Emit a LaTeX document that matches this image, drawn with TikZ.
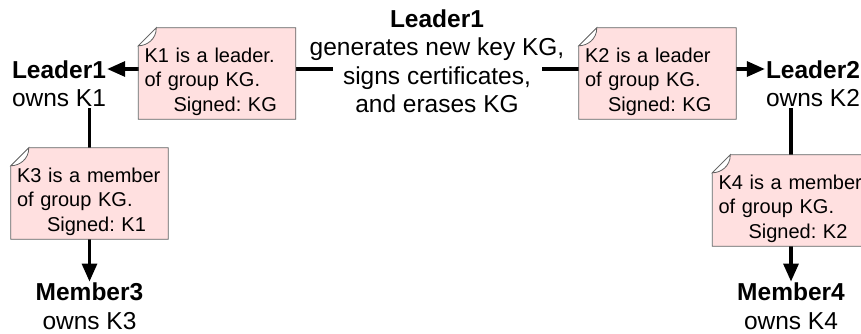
\documentclass[tikz,border=0pt]{standalone}
\usepackage{fontspec}
\setmainfont{Liberation Sans}
\usetikzlibrary{arrows.meta}
\usetikzlibrary{positioning}

\definecolor{notepink}{RGB}{255,224,224}
\definecolor{noteedge}{RGB}{96,96,96}
\newcommand{\lblfont}{\fontsize{24.5}{28.5}\selectfont}
\newcommand{\notefont}{\frenchspacing\fontsize{20}{24.5}\selectfont}

\begin{document}
\begin{tikzpicture}
	[
	x=1pt, y=-1pt,
	> = {Triangle[length=18pt,width=15pt]},
	party/.style = {align=center, font=\lblfont, inner sep=1pt},
	note/.style = {fill=notepink, text width=145pt, inner xsep=6pt, inner ysep=0pt, minimum height=91pt, align=left, font=\notefont},
	flow/.style = {line width=3.2pt},
	edge/.style = {draw=noteedge, line width=0.8pt}
	]
	\useasboundingbox (0,0) rectangle (861,333);

	% key holders
	\node[party] (gen) at (437,61) {\textbf{Leader1}\\generates new key KG,\\signs certificates,\\and erases KG};
	\node[party] (lead1) at (59,83.5) {\textbf{Leader1}\\owns K1};
	\node[party] (lead2) at (813,83.5) {\textbf{Leader2}\\owns K2};
	\node[party] (mem3) at (89.5,306) {\textbf{Member3}\\owns K3};
	\node[party] (mem4) at (791,306) {\textbf{Member4}\\owns K4};
	\coordinate (genL) at (333,69);
	\coordinate (genR) at (542,69);

	\draw[flow,->] (genL) -- (lead1.east |- genL);
	\draw[flow,->] (genR) -- (lead2.west |- genR);
	\draw[flow,->] (mem3 |- lead1.south) -- (mem3);
	\draw[flow,->] (mem4 |- lead2.south) -- (mem4);

	% certificates
	\node[note] (n1) at (217,73.5) {\rule{0pt}{31pt}K1 is a leader.\\of group KG.\\\hspace*{29pt}Signed: KG};
	\node[note] (n2) at (657.5,73.5) {\rule{0pt}{31pt}K2 is a leader\\of group KG.\\\hspace*{23pt}Signed: KG};
	\node[note] (n3) at (89.5,193.5) {\rule{0pt}{31pt}K3 is a member\\of group KG.\\\hspace*{30pt}Signed: K1};
	\node[note] (n4) at (791,200.5) {\rule{0pt}{31pt}K4 is a member\\of group KG.\\\hspace*{30pt}Signed: K2};

	\foreach \n in {n1,n2,n3,n4} {
		\fill[white] ([yshift=-18pt]\n.north west) -- (\n.north west) -- ([xshift=18pt]\n.north west) -- cycle;
		\draw[edge] ([yshift=-18pt]\n.north west) -- ([xshift=18pt]\n.north west) -- (\n.north east) -- (\n.south east) -- (\n.south west) -- cycle;
		\filldraw[edge, fill=white] ([xshift=18pt]\n.north west) .. controls ([xshift=18pt,yshift=-12pt]\n.north west) and ([xshift=8pt,yshift=-18pt]\n.north west) .. ([yshift=-18pt]\n.north west) -- cycle;
	}
\end{tikzpicture}
\end{document}
